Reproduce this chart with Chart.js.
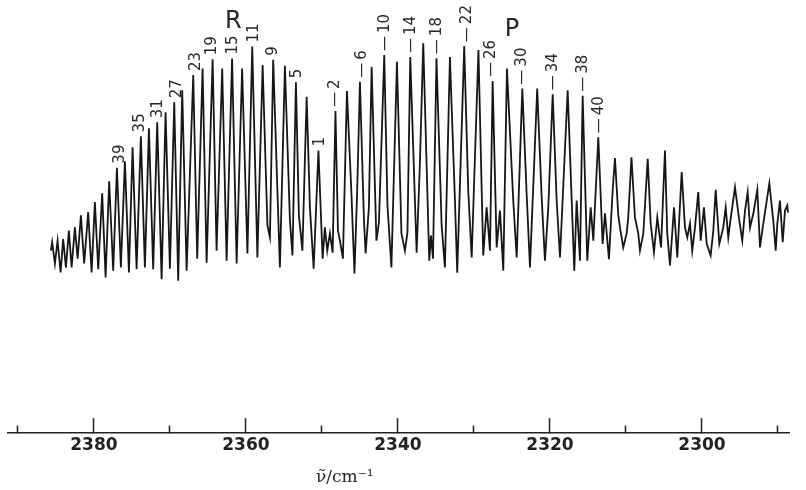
<!DOCTYPE html>
<html>
<head>
<meta charset="utf-8">
<script src="https://cdn.jsdelivr.net/npm/chart.js@4.4.1/dist/chart.umd.min.js"></script>
<style>
    html, body { margin: 0; padding: 0; background: #fff; }
    canvas { display: block; }
</style>
</head>
<body>
<canvas id="espectro" width="806" height="490"></canvas>
<script>
const numeroOnda = [
    2385.66, 2385.49, 2385.13, 2384.78, 2384.38, 2384.04, 2383.68, 2383.29, 2382.93, 2382.50,
    2382.14, 2381.71, 2381.28, 2380.75, 2380.30, 2379.87, 2379.43, 2378.91, 2378.46, 2377.99,
    2377.46, 2376.97, 2376.45, 2375.92, 2375.39, 2374.91, 2374.38, 2373.82, 2373.29, 2372.76,
    2372.20, 2371.67, 2371.09, 2370.57, 2370.00, 2369.43, 2368.91, 2368.38, 2367.80, 2366.93,
    2366.41, 2365.70, 2365.17, 2364.38, 2363.86, 2363.12, 2362.54, 2361.82, 2361.22, 2360.50,
    2359.80, 2359.17, 2358.49, 2357.80, 2357.17, 2356.84, 2356.41, 2355.53, 2354.87, 2354.21,
    2353.88, 2353.42, 2353.03, 2352.57, 2352.01, 2351.58, 2351.09, 2350.46, 2349.91, 2349.61,
    2349.30, 2348.95, 2348.59, 2348.22, 2347.89, 2347.63, 2347.24, 2346.71, 2346.12, 2345.72,
    2345.36, 2345.00, 2344.47, 2344.25, 2343.82, 2343.46, 2342.83, 2342.50, 2341.80, 2341.38,
    2340.86, 2340.13, 2339.54, 2339.08, 2338.75, 2338.38, 2337.54, 2337.11, 2336.67, 2335.88,
    2335.66, 2335.39, 2334.93, 2334.25, 2333.82, 2333.16, 2332.50, 2332.20, 2331.28, 2330.75,
    2330.30, 2329.41, 2328.78, 2328.33, 2327.89, 2327.54, 2327.01, 2326.58, 2326.14, 2325.66,
    2324.83, 2324.38, 2323.64, 2323.07, 2322.63, 2321.68, 2321.09, 2320.66, 2320.22, 2319.64,
    2319.12, 2318.68, 2317.67, 2317.14, 2316.80, 2316.49, 2316.05, 2315.70, 2315.09, 2314.64,
    2314.30, 2313.64, 2313.07, 2312.76, 2312.24, 2311.75, 2311.45, 2311.01, 2310.79, 2310.36,
    2309.91, 2309.70, 2309.28, 2308.82, 2308.38, 2308.16, 2307.72, 2307.14, 2306.75, 2306.32,
    2305.88, 2305.39, 2304.87, 2304.57, 2304.21, 2303.68, 2303.25, 2302.67, 2302.24, 2301.93,
    2301.58, 2301.28, 2300.92, 2300.49, 2300.17, 2299.74, 2299.38, 2298.86, 2298.51, 2298.20,
    2297.72, 2297.20, 2296.88, 2296.54, 2296.32, 2295.66, 2295.09, 2294.70, 2294.34, 2293.99,
    2293.68, 2293.25, 2292.72, 2292.37, 2292.01, 2291.14, 2290.62, 2290.30, 2290.09, 2289.74,
    2289.38, 2289.08, 2288.78, 2288.68
];

const intensidade = [
    45, 47.1, 41.8, 47.5, 39.6, 47.9, 40.8, 50, 40.8, 50.8,
    43, 53.8, 41.8, 54.6, 39.6, 57.1, 40.4, 59.3, 38.3, 62.3,
    40, 65.7, 40.8, 67.3, 39.6, 70.8, 40.4, 73.5, 40.8, 75.5,
    40.4, 77, 37.9, 79.5, 40.5, 82, 37.5, 85, 40, 88.8,
    43, 90.4, 42, 92.7, 45, 90.4, 42.5, 92.9, 41.8, 90.4,
    44.3, 95.9, 43.3, 91.3, 51.3, 48.3, 92.6, 40.8, 91.1, 52.5,
    43.8, 87, 53.8, 45, 83.4, 55.8, 40.5, 70, 43, 50.8,
    45, 49.3, 44.5, 79.8, 50, 47.5, 43, 84.8, 59.3, 39.3,
    60, 87.1, 52.5, 44.3, 55.8, 90.8, 47.5, 52, 93.8, 56.3,
    40.8, 92.1, 49.3, 45, 49.5, 93.3, 44.5, 66.8, 96.7, 42.5,
    48.8, 43, 93, 51.3, 40.8, 93.3, 57.5, 39.5, 96, 60,
    43.3, 95, 43.8, 55.8, 45, 87.3, 45.8, 55, 40, 90.4,
    57.5, 43.3, 85.4, 59.3, 40.8, 85.4, 58.3, 42.5, 55.8, 84,
    57.5, 43.3, 85, 57.5, 40, 57.5, 42.5, 83.6, 42.5, 55.8,
    47.5, 73.3, 46.7, 54.3, 42.9, 60, 68.1, 53.8, 50.8, 45.8,
    49.3, 53.3, 68.3, 53.3, 49.3, 45, 49.3, 67.9, 51.8, 44.6,
    53.3, 45.8, 70, 49.3, 41.3, 55.8, 43.3, 64.6, 50.8, 48.3,
    51.8, 45, 50.8, 59.6, 47.5, 55.8, 46.7, 43.8, 50, 60.2,
    46.7, 50.8, 55.8, 48.3, 51.7, 60.8, 52.5, 47.5, 55, 59.6,
    50.8, 54.2, 60.2, 45.8, 50.8, 61.8, 52.5, 45, 51.7, 57.5,
    47.1, 55, 56.3, 54.5
];

const ticksValores = [2390, 2380, 2370, 2360, 2350, 2340, 2330, 2320, 2310, 2300, 2290];
const ticksTextos = ['', '2380', '', '2360', '', '2340', '', '2320', '', '2300', ''];

// numeração das linhas (ramos R e P) e onde cada uma cai no espectro
const rotulos = ['39', '35', '31', '27', '23', '19', '15', '11', '9', '5', '1',
    '\u2014\u20092', '\u2014\u20096', '\u2014\u200910', '\u2014\u200914', '\u2014\u200918', '\u2014\u200922',
    '\u2014\u200926', '\u2014\u200930', '\u2014\u200934', '\u2014\u200938', '\u2014\u200940'];
const rotulosOnda = [2376.58, 2373.95, 2371.58, 2369.08, 2366.58, 2364.41, 2361.71, 2358.95, 2356.38, 2353.29, 2350.26,
    2348.22, 2344.74, 2341.71, 2338.22, 2334.80, 2330.92, 2327.76, 2323.62, 2319.61, 2315.66, 2313.55];

const ramos = ['R', 'P'];

const rotulosPlugin = {
    id: 'rotulos',
    afterDatasetsDraw(chart) {
        const ctx = chart.ctx;
        const escalaX = chart.scales.x;
        const escalaY = chart.scales.y;

        // máximos locais do traço
        const picos = [];
        for (let i = 1; i < numeroOnda.length - 1; i++) {
            if (intensidade[i] > intensidade[i - 1] && intensidade[i] > intensidade[i + 1]) {
                picos.push(i);
            }
        }

        ctx.save();
        ctx.fillStyle = '#262626';
        ctx.font = '15px "DejaVu Sans"';
        ctx.textAlign = 'left';
        ctx.textBaseline = 'middle';

        rotulos.forEach(function (texto, k) {
            const alvo = rotulosOnda[k];
            let melhor = picos[0];
            picos.forEach(function (i) {
                if (Math.abs(numeroOnda[i] - alvo) < Math.abs(numeroOnda[melhor] - alvo)) {
                    melhor = i;
                }
            });
            const px = escalaX.getPixelForValue(alvo);
            const py = escalaY.getPixelForValue(intensidade[melhor]) - 4;
            ctx.save();
            ctx.translate(px, py);
            ctx.rotate(-Math.PI / 2);
            ctx.fillText(texto, 0, 0);
            ctx.restore();
        });

        // letras dos ramos
        ctx.font = '24px "DejaVu Sans"';
        ctx.textAlign = 'center';
        const posRamos = [[2361.64, 102], [2325.0, 100]];
        ramos.forEach(function (letra, k) {
            ctx.fillText(letra, escalaX.getPixelForValue(posRamos[k][0]), escalaY.getPixelForValue(posRamos[k][1]));
        });

        // título do eixo
        ctx.font = '17px "DejaVu Serif"';
        ctx.fillText('\u03BD\u0303/cm\u207B\u00B9', escalaX.getPixelForValue(2347), chart.chartArea.bottom + 44);
        ctx.restore();
    }
};

new Chart(document.getElementById('espectro'), {
    type: 'line',
    data: {
        datasets: [{
            data: numeroOnda.map((w, i) => ({ x: w, y: intensidade[i] })),
            borderColor: '#161616',
            borderWidth: 1.8,
            pointRadius: 0,
            tension: 0,
            fill: false
        }]
    },
    options: {
        responsive: false,
        animation: false,
        devicePixelRatio: 1,
        layout: { padding: { left: 8, right: 16.6, top: 0, bottom: 17.4 } },
        plugins: {
            legend: { display: false },
            tooltip: { enabled: false }
        },
        scales: {
            x: {
                type: 'linear',
                reverse: true,
                min: 2288.5,
                max: 2391.3,
                afterBuildTicks: function (escala) {
                    escala.ticks = ticksValores.map(v => ({ value: v }));
                },
                ticks: {
                    autoSkip: false,
                    maxRotation: 0,
                    padding: 17,
                    color: '#222',
                    font: { family: 'DejaVu Sans', size: 17, weight: 'bold' },
                    callback: (v, i) => ticksTextos[i]
                },
                grid: {
                    drawOnChartArea: false,
                    drawTicks: true,
                    tickLength: -15,
                    tickColor: '#222',
                    tickWidth: 1.5,
                    tickBorderDash: (c) => ticksTextos[c.index] ? [] : [8, 40]
                },
                border: { display: true, color: '#222', width: 1.5 }
            },
            y: { display: false, min: -0.5, max: 107.5 }
        }
    },
    plugins: [rotulosPlugin]
});
</script>
</body>
</html>
